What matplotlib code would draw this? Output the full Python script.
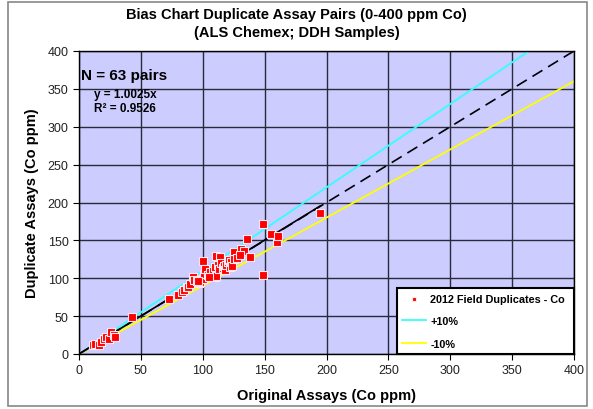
import numpy as np
import matplotlib.pyplot as plt
from matplotlib.patches import Rectangle

plt.rcParams['font.family'] = ['Liberation Sans', 'DejaVu Sans']

# duplicate assay pairs (Co ppm)
original = [11, 13, 16, 18, 20, 22, 24, 26, 28, 29,
            43, 73, 80, 83, 85, 87, 88, 90, 92, 93,
            95, 97, 98, 100, 100, 101, 102, 104, 106, 108,
            110, 110, 111, 111, 112, 113, 114, 115, 116, 117,
            118, 119, 120, 121, 122, 123, 124, 125, 125, 128,
            131, 133, 136, 138, 149, 149, 155, 160, 161, 195,
            130, 105, 96]
duplicate = [12, 13, 12, 16, 20, 22, 20, 29, 25, 23,
             49, 72, 78, 82, 85, 88, 89, 92, 101, 98,
             96, 94, 95, 123, 99, 105, 112, 104, 108, 110,
             115, 101, 103, 129, 118, 112, 128, 120, 114, 116,
             111, 118, 121, 124, 115, 122, 116, 134, 126, 127,
             139, 136, 152, 128, 171, 104, 158, 148, 156, 186,
             131, 102, 97]

slope = 1.0025
r2 = 0.9526
n_pairs = 63
axis_max = 400
ticks = np.arange(0, 401, 50)

fig = plt.figure(figsize=(5.93, 4.10), dpi=100)
ax = fig.add_axes([79 / 593, 1 - 355 / 410, 495 / 593, 303 / 410])
ax.set_facecolor('#CCCCFF')

# outer chart border
fig.patches.append(Rectangle((8 / 593, 3 / 410), 579 / 593, 404 / 410,
                             transform=fig.transFigure, fill=False,
                             edgecolor='#888888', lw=1.2))

xs = np.array([0, axis_max])
ax.plot(xs, xs * 1.1, color='#33FFFF', lw=1.3, label='+10%', zorder=2)
ax.plot(xs, xs * 0.9, color='#FFFF00', lw=1.3, label='-10%', zorder=2)
ax.plot(xs, xs, color='black', lw=1.2, ls=(0, (7, 4)), zorder=2)
xt = np.array([0, max(original)])
ax.plot(xt, xt * slope, color='black', lw=1.2, zorder=3)

ax.scatter(original, duplicate, marker='s', s=34, color='#FF0000',
           edgecolors='#FFE8F0', linewidths=0.8, zorder=4,
           label='2012 Field Duplicates - Co')

ax.set_xlim(0, axis_max)
ax.set_ylim(0, axis_max)
ax.set_xticks(ticks)
ax.set_yticks(ticks)
ax.grid(True, color='#2a2a3a', lw=1.0)
ax.set_axisbelow(True)
ax.tick_params(labelsize=9, length=4, color='black', labelcolor='#222222')
for s in ax.spines.values():
    s.set_color('black')
    s.set_linewidth(1.0)

ax.set_xlabel('Original Assays (Co ppm)', fontsize=10.5, fontweight='bold', labelpad=8)
ax.set_ylabel('Duplicate Assays (Co ppm)', fontsize=10.5, fontweight='bold', labelpad=6)
fig.text(0.5, 1 - 24 / 410, 'Bias Chart Duplicate Assay Pairs (0-400 ppm Co)\n(ALS Chemex; DDH Samples)',
         ha='center', va='center', fontsize=10.5, fontweight='bold', linespacing=1.3)

ax.text(0.005, 0.92, 'N = %d pairs' % n_pairs, transform=ax.transAxes,
        fontsize=11, fontweight='bold', va='center')
ax.text(0.03, 0.857, 'y = %.4fx' % slope, transform=ax.transAxes,
        fontsize=8.5, fontweight='bold', va='center')
ax.text(0.03, 0.812, 'R² = %.4f' % r2, transform=ax.transAxes,
        fontsize=8.5, fontweight='bold', va='center')

h, l = ax.get_legend_handles_labels()
order = [2, 0, 1]
leg = ax.legend([h[i] for i in order], [l[i] for i in order],
                loc='lower left', bbox_to_anchor=(0.642, 0.0, 0.358, 0.22),
                mode='expand', borderaxespad=0, fancybox=False,
                prop={'weight': 'bold', 'size': 7.8}, labelspacing=1.15,
                handlelength=2.2, handletextpad=0.4, borderpad=0.5,
                markerscale=0.55, framealpha=1)
leg.get_frame().set_edgecolor('black')
leg.get_frame().set_linewidth(1.5)

fig.savefig('out.png', dpi=100)
